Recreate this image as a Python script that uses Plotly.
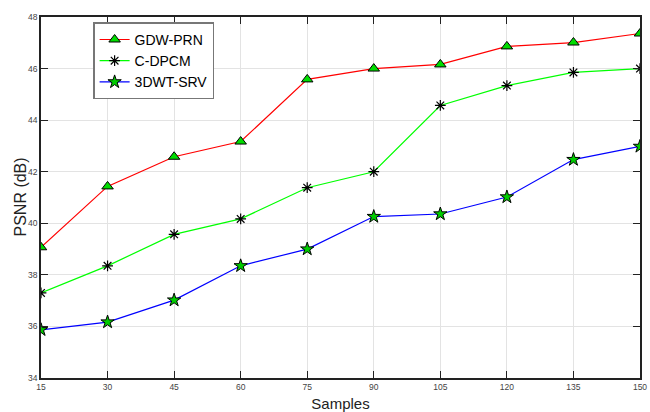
import plotly.graph_objects as go

samples = [15, 30, 45, 60, 75, 90, 105, 120, 135, 150]
gdw_prn = [39.07, 41.43, 42.58, 43.17, 45.58, 46.0, 46.16, 46.86, 47.01, 47.36]
c_dpcm = [37.3, 38.35, 39.57, 40.17, 41.38, 42.0, 44.57, 45.34, 45.85, 46.0]
dwt_srv = [35.87, 36.17, 37.02, 38.35, 39.0, 40.26, 40.36, 41.02, 42.47, 42.98]
x_ticks = samples
y_ticks = [34, 36, 38, 40, 42, 44, 46, 48]

fig = go.Figure()
fig.add_trace(go.Scatter(x=samples, y=gdw_prn, name="GDW-PRN", mode="lines+markers",
                         line=dict(color="#ff0000", width=1.2),
                         marker=dict(symbol="triangle-up", size=10, color="#00dd00",
                                     line=dict(color="black", width=1))))
fig.add_trace(go.Scatter(x=samples, y=c_dpcm, name="C-DPCM", mode="lines+markers",
                         line=dict(color="#00ff00", width=1.2),
                         marker=dict(symbol="asterisk-open", size=9, color="black",
                                     line=dict(color="black", width=1.2))))
fig.add_trace(go.Scatter(x=samples, y=dwt_srv, name="3DWT-SRV", mode="lines+markers",
                         line=dict(color="#0000ff", width=1.2),
                         marker=dict(symbol="star", size=10, color="#00cc00",
                                     line=dict(color="black", width=1))))

axis_common = dict(showline=True, linecolor="#222222", linewidth=1.5, mirror="ticks",
                   ticks="inside", ticklen=7, tickcolor="#222222",
                   showgrid=True, gridcolor="#e3e3e3", gridwidth=1, zeroline=False,
                   automargin=False,
                   tickfont=dict(family="Liberation Sans, Arial", size=8.5, color="#444444"))

fig.update_layout(
    width=650, height=412,
    margin=dict(l=41, r=10, t=17, b=34),
    paper_bgcolor="white", plot_bgcolor="white",
    showlegend=True,
    legend=dict(x=0.087, y=0.985, xanchor="left", yanchor="top",
                bgcolor="white", bordercolor="#777777", borderwidth=1.5,
                font=dict(family="Liberation Sans, Arial", size=14, color="black"),
                itemwidth=30, tracegroupgap=0),
    xaxis=dict(range=[15, 150], tickvals=x_ticks,
               title=dict(text="Samples", standoff=10,
                          font=dict(family="Liberation Sans, Arial", size=15, color="#222222")),
               **axis_common),
    yaxis=dict(range=[34, 48], tickvals=y_ticks, **axis_common),
    annotations=[dict(text="PSNR (dB)", textangle=-90, xref="paper", yref="paper",
                      x=(20 - 41) / 599, y=0.5, xanchor="center", yanchor="middle",
                      showarrow=False,
                      font=dict(family="Liberation Sans, Arial", size=16, color="#222222"))],
)

fig.write_html("out.html", config={"displayModeBar": False},
               post_script="document.body.style.margin='0';document.body.style.padding='0';")
